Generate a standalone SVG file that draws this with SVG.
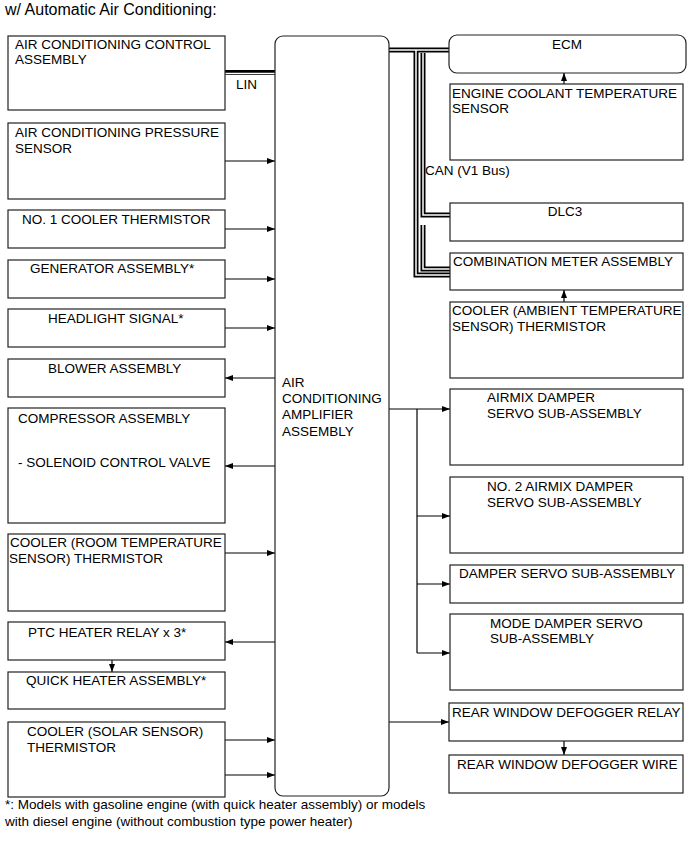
<svg xmlns="http://www.w3.org/2000/svg" width="691" height="855" viewBox="0 0 691 855">
<style>
text{font-family:"Liberation Sans",Arial,sans-serif;font-size:13.5px;fill:#000}
.b{fill:#fff;stroke:#222;stroke-width:1.2}
.w{fill:none;stroke:#000;stroke-width:1.2}
.busb{fill:none;stroke:#000;stroke-width:5}
.busw{fill:none;stroke:#fff;stroke-width:1.5}
.t{font-size:16px}
</style>
<defs>
<marker id="ah" viewBox="0 0 8 6" refX="8" refY="3" markerWidth="8" markerHeight="6" markerUnits="userSpaceOnUse" orient="auto">
<path d="M0,0 L8,3 L0,6 Z" fill="#000"/>
</marker>
</defs>
<rect width="691" height="855" fill="#fff"/>
<text class="t" x="5" y="15">w/ Automatic Air Conditioning:</text>

<g id="connectors">
<path class="busb" d="M225,72.5 H275"/>
<path class="busw" d="M225,73.5 H275"/>
<path class="busb" d="M389,50 H450"/>
<path class="busb" d="M416,50 V275 H450"/>
<path class="busb" d="M423,53 V215 H450"/>
<path class="busb" d="M423,225 V269 H450"/>
<path class="busw" d="M389,50 H450"/>
<path class="busw" d="M416,50 V275 H450"/>
<path class="busw" d="M423,53 V215 H450"/>
<path class="busw" d="M423,225 V269 H450"/>
<path class="w" marker-end="url(#ah)" d="M225,161 H275"/>
<path class="w" marker-end="url(#ah)" d="M225,229 H275"/>
<path class="w" marker-end="url(#ah)" d="M225,279 H275"/>
<path class="w" marker-end="url(#ah)" d="M225,328 H275"/>
<path class="w" marker-end="url(#ah)" d="M275,378 H225"/>
<path class="w" marker-end="url(#ah)" d="M275,466 H225"/>
<path class="w" marker-end="url(#ah)" d="M225,553 H275"/>
<path class="w" marker-end="url(#ah)" d="M275,642 H225"/>
<path class="w" marker-end="url(#ah)" d="M112,660 V672"/>
<path class="w" marker-end="url(#ah)" d="M225,740 H275"/>
<path class="w" marker-end="url(#ah)" d="M225,775 H275"/>
<path class="w" marker-end="url(#ah)" d="M564,84 V73"/>
<path class="w" marker-end="url(#ah)" d="M564,302 V290"/>
<path class="w" marker-end="url(#ah)" d="M389,409 H450"/>
<path class="w" d="M417,409 V653"/>
<path class="w" marker-end="url(#ah)" d="M417,516 H450"/>
<path class="w" marker-end="url(#ah)" d="M417,584 H450"/>
<path class="w" marker-end="url(#ah)" d="M417,653 H450"/>
<path class="w" marker-end="url(#ah)" d="M389,722 H449"/>
<path class="w" marker-end="url(#ah)" d="M564,741 V755"/>
</g>

<g id="amp">
<rect class="b" x="275" y="36" width="114" height="760" rx="8"/>
<text x="282" y="387">AIR</text>
<text x="282" y="403">CONDITIONING</text>
<text x="282" y="419">AMPLIFIER</text>
<text x="282" y="436">ASSEMBLY</text>
</g>

<g id="ctrl"><rect class="b" x="8" y="36" width="217" height="74"/>
<text x="15" y="49">AIR CONDITIONING CONTROL</text><text x="15" y="64">ASSEMBLY</text></g>
<text x="236" y="89">LIN</text>
<g id="press"><rect class="b" x="8" y="123" width="217" height="76"/>
<text x="15" y="137">AIR CONDITIONING PRESSURE</text><text x="15" y="153">SENSOR</text></g>
<g id="no1"><rect class="b" x="8" y="210" width="217" height="38"/>
<text x="22" y="224">NO. 1 COOLER THERMISTOR</text></g>
<g id="gen"><rect class="b" x="8" y="260" width="217" height="38"/>
<text x="30" y="273">GENERATOR ASSEMBLY*</text></g>
<g id="head"><rect class="b" x="8" y="309" width="217" height="38"/>
<text x="48" y="323">HEADLIGHT SIGNAL*</text></g>
<g id="blower"><rect class="b" x="8" y="359" width="217" height="38"/>
<text x="48" y="373">BLOWER ASSEMBLY</text></g>
<g id="comp"><rect class="b" x="8" y="408" width="217" height="115"/>
<text x="18" y="423">COMPRESSOR ASSEMBLY</text><text x="18" y="467">- SOLENOID CONTROL VALVE</text></g>
<g id="room"><rect class="b" x="8" y="534" width="217" height="77"/>
<text x="10" y="547">COOLER (ROOM TEMPERATURE</text><text x="9" y="563">SENSOR) THERMISTOR</text></g>
<g id="ptc"><rect class="b" x="8" y="622" width="217" height="38"/>
<text x="28" y="637">PTC HEATER RELAY x 3*</text></g>
<g id="quick"><rect class="b" x="8" y="672" width="217" height="37"/>
<text x="26" y="685">QUICK HEATER ASSEMBLY*</text></g>
<g id="solar"><rect class="b" x="8" y="722" width="217" height="75"/>
<text x="27" y="736">COOLER (SOLAR SENSOR)</text><text x="27" y="752">THERMISTOR</text></g>

<g id="ecm"><rect class="b" x="449" y="35" width="237" height="38" rx="8"/>
<text x="567" y="49" text-anchor="middle">ECM</text></g>
<g id="ect"><rect class="b" x="450" y="84" width="233" height="76"/>
<text x="452" y="98">ENGINE COOLANT TEMPERATURE</text><text x="452" y="113">SENSOR</text></g>
<text x="425" y="175">CAN (V1 Bus)</text>
<g id="dlc3"><rect class="b" x="450" y="203" width="233" height="38"/>
<text x="565" y="216" text-anchor="middle">DLC3</text></g>
<g id="meter"><rect class="b" x="450" y="253" width="233" height="37"/>
<text x="453" y="266">COMBINATION METER ASSEMBLY</text></g>
<g id="amb"><rect class="b" x="450" y="302" width="233" height="76"/>
<text x="452" y="315">COOLER (AMBIENT TEMPERATURE</text><text x="452" y="331">SENSOR) THERMISTOR</text></g>
<g id="airmix"><rect class="b" x="450" y="389" width="233" height="76"/>
<text x="487" y="402">AIRMIX DAMPER</text><text x="487" y="418">SERVO SUB-ASSEMBLY</text></g>
<g id="airmix2"><rect class="b" x="450" y="477" width="233" height="76"/>
<text x="487" y="491">NO. 2 AIRMIX DAMPER</text><text x="487" y="507">SERVO SUB-ASSEMBLY</text></g>
<g id="damper"><rect class="b" x="450" y="565" width="233" height="38"/>
<text x="459" y="578">DAMPER SERVO SUB-ASSEMBLY</text></g>
<g id="mode"><rect class="b" x="450" y="614" width="233" height="76"/>
<text x="490" y="628">MODE DAMPER SERVO</text><text x="490" y="643">SUB-ASSEMBLY</text></g>
<g id="relay"><rect class="b" x="449" y="703" width="234" height="38"/>
<text x="452" y="717">REAR WINDOW DEFOGGER RELAY</text></g>
<g id="wire"><rect class="b" x="449" y="755" width="234" height="38"/>
<text x="457" y="769">REAR WINDOW DEFOGGER WIRE</text></g>

<text x="5" y="809">*: Models with gasoline engine (with quick heater assembly) or models</text>
<text x="5" y="826">with diesel engine (without combustion type power heater)</text>
</svg>
